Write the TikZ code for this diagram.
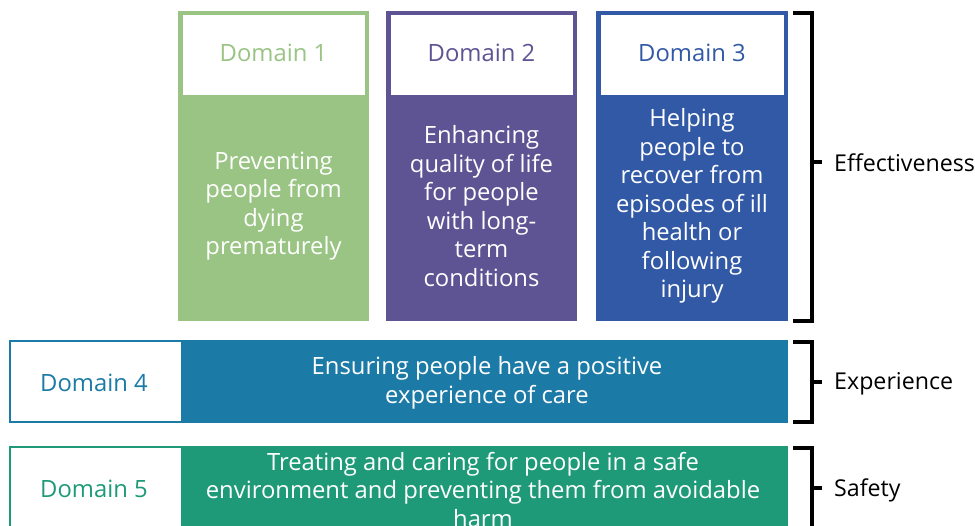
\documentclass[tikz,border=0pt]{standalone}
\usepackage{fontspec}
\setmainfont{Open Sans}
\definecolor{dgreen}{HTML}{99C483}
\definecolor{dpurple}{HTML}{5E5393}
\definecolor{dblue}{HTML}{3259A5}
\definecolor{dteal}{HTML}{1C7AA6}
\definecolor{dsea}{HTML}{1F9A78}
\begin{document}
\begin{tikzpicture}[x=1pt,y=-1pt,
  txt/.style={font=\fontsize{23.8}{28.5}\selectfont, align=center, inner sep=0pt},
  bodytxt/.style={txt, text=white},
  brk/.style={line width=4pt, line cap=butt},
  lbl/.style={font=\fontsize{23.2}{28.5}\selectfont, inner sep=0pt, anchor=west, text=black}]
\useasboundingbox (0,0) rectangle (975,526);
\clip (0,0) rectangle (975,526);
% top three domains
\foreach \xa/\xb/\col/\n in {178/369/dgreen/1, 386/577/dpurple/2, 596/788/dblue/3}{
  \fill[\col] (\xa,11) rectangle (\xb,321);
  \fill[white] (\xa+4.5,15.5) rectangle (\xb-4.5,95);
  \node[txt, text=\col] (h\n) at ({(\xa+\xb)/2},53) {Domain \n};
}
\node[bodytxt] (b1) at (273.5,206) {Preventing\\people from\\dying\\prematurely};
\node[bodytxt] (b2) at (481.5,206) {Enhancing\\quality of life\\for people\\with long-\\term\\conditions};
\node[bodytxt] (b3) at (692,206) {Helping\\people to\\recover from\\episodes of ill\\health or\\following\\injury};
% domain 4
\fill[dteal] (9,340) rectangle (788,423);
\fill[white] (11,342) rectangle (181,421);
\node[txt, text=dteal] (h4) at (94,383) {Domain 4};
\node[bodytxt] (b4) at (487,383) {Ensuring people have a positive\\experience of care};
% domain 5
\fill[dsea] (9,446) rectangle (788,540);
\fill[white] (11,448) rectangle (181,545);
\node[txt, text=dsea] (h5) at (94,489) {Domain 5};
\node[bodytxt] (b5) at (483,490) {Treating and caring for people in a safe\\environment and preventing them from avoidable\\harm};
% brackets
\coordinate (e1) at (793,13); \coordinate (e2) at (812,13);
\coordinate (e3) at (812,321); \coordinate (e4) at (793,321);
\coordinate (et) at (812,162); \coordinate (ee) at (822,162);
\draw[brk] (e1) -- (e2) -- (e3) -- (e4);
\draw[brk] (et) -- (ee);
\node[lbl] (l1) at (834,163) {Effectiveness};
\coordinate (x1) at (793,342); \coordinate (x2) at (812,342);
\coordinate (x3) at (812,422); \coordinate (x4) at (793,422);
\coordinate (xt) at (812,382); \coordinate (xe) at (822,382);
\draw[brk] (x1) -- (x2) -- (x3) -- (x4);
\draw[brk] (xt) -- (xe);
\node[lbl] (l2) at (834,384) {Experience};
\coordinate (s1) at (793,448); \coordinate (s2) at (812,448);
\coordinate (s3) at (812,540);
\coordinate (st) at (812,488); \coordinate (se) at (822,488);
\draw[brk] (s1) -- (s2) -- (s3);
\draw[brk] (st) -- (se);
\node[lbl] (l3) at (834,490) {Safety};
\end{tikzpicture}
\end{document}
